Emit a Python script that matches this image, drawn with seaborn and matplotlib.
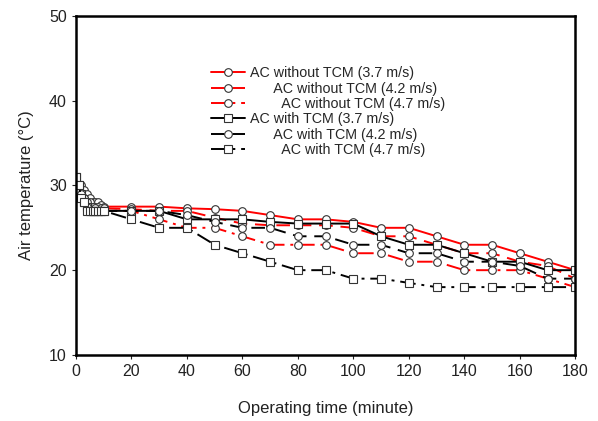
import matplotlib
matplotlib.use("Agg")
import matplotlib.pyplot as plt
import pandas as pd
import seaborn as sns

sns.set_style("ticks")
plt.rcParams['font.family'] = ['Liberation Sans', 'DejaVu Sans']

# data
time_min = [0, 1, 2, 3, 4, 5, 6, 7, 8, 9, 10,
            20, 30, 40, 50, 60, 70, 80, 90, 100, 110, 120, 130, 140, 150, 160, 170, 180]

no_tcm_37 = [30, 30, 30, 29.5, 29, 28.5, 28, 28, 28, 27.7, 27.5,
             27.5, 27.5, 27.3, 27.2, 27, 26.5, 26, 26, 25.7, 25, 25, 24, 23, 23, 22, 21, 20]
no_tcm_42 = [30, 29.5, 29, 28.5, 28, 28, 27.5, 27.5, 27.5, 27.3, 27.3,
             27.2, 27, 27, 26.2, 25.5, 25.3, 25.3, 25.3, 25, 24, 24, 23, 22, 22, 21, 20.5, 19]
no_tcm_47 = [30, 29.5, 29, 28.5, 28, 27.5, 27.5, 27.3, 27, 27, 27,
             27, 26, 25, 25, 24, 23, 23, 23, 22, 22, 21, 21, 20, 20, 20, 19, 18]
tcm_37 = [31, 30, 29, 28, 27.5, 27, 27, 27, 27, 27, 27,
          27, 27, 26, 26, 26, 25.7, 25.5, 25.5, 25.5, 24, 23, 23, 22, 21, 21, 20, 20]
tcm_42 = [30, 29.5, 29, 28, 27.5, 27, 27, 27, 27, 27, 27,
          27, 27, 26.5, 25.7, 25, 25, 24, 24, 23, 23, 22, 22, 21, 21, 20.5, 19, 19]
tcm_47 = [31, 30, 28.5, 28, 27, 27, 27, 27, 27, 27, 27,
          26, 25, 25, 23, 22, 21, 20, 20, 19, 19, 18.5, 18, 18, 18, 18, 18, 18]

labels = ["AC without TCM (3.7 m/s)",
          "      AC without TCM (4.2 m/s)",
          "        AC without TCM (4.7 m/s)",
          "AC with TCM (3.7 m/s)",
          "      AC with TCM (4.2 m/s)",
          "        AC with TCM (4.7 m/s)"]
series = [no_tcm_37, no_tcm_42, no_tcm_47, tcm_37, tcm_42, tcm_47]
colors = ["red", "red", "red", "black", "black", "black"]
styles = ["-", (0, (7, 4)), (0, (8, 3, 1.5, 3)), "-", (0, (7, 4)), (0, (8, 3, 1.5, 3))]
markers = ["o", "o", "o", "s", "o", "s"]

fig = plt.figure(figsize=(5.98, 4.21), dpi=100)
ax = fig.add_axes([0.127, 0.157, 0.835, 0.805])

for vals, lab, c, ls, m in zip(series, labels, colors, styles, markers):
    df = pd.DataFrame({"t": time_min, "v": vals})
    sns.lineplot(data=df, x="t", y="v", ax=ax, color=c, linestyle=ls, linewidth=1.4,
                 marker=m, markersize=5.5, markerfacecolor="white",
                 markeredgecolor="#333333", markeredgewidth=0.8, label=lab)

ax.set_xlim(0, 180)
ax.set_ylim(10, 50)
ax.set_xticks(range(0, 181, 20))
ax.set_yticks(range(10, 51, 10))
ax.set_xlabel("Operating time (minute)", fontsize=12, color="#222222", labelpad=16)
ax.set_ylabel("Air temperature (°C)", fontsize=12, color="#222222", labelpad=11)
ax.tick_params(labelsize=11.5, direction="out", length=3, colors="#222222")
for s in ax.spines.values():
    s.set_linewidth(1.8)
    s.set_color("black")

ax.legend(loc="upper left", bbox_to_anchor=(0.245, 0.89), frameon=False,
          fontsize=10.3, handlelength=2.4, labelspacing=0.1, handletextpad=0.3)

fig.savefig("out.png", dpi=100)
